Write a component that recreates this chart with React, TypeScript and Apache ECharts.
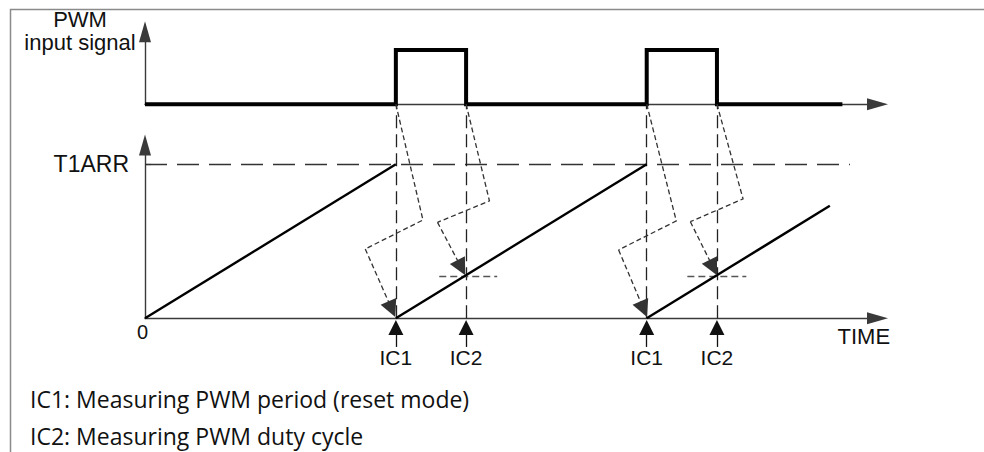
import React, { useEffect, useRef } from 'react';
import * as echarts from 'echarts';

// ---- data (time units along x, counter units along y) ----
const X_MAX = 29.2;
const PWM_TIMES = [0, 10, 10, 12.8, 12.8, 20, 20, 22.8, 22.8, 27.8];
const PWM_LEVELS = [0, 0, 1, 1, 0, 0, 1, 1, 0, 0];
const PWM_MAX = 1.337;
const COUNT_MAX = 112.5;
const T1ARR = 100;
const T1ARR_END = 28.1;
const RAMP_START = [0, 10, 20];
const RAMP_END = [10, 20, 27.3];
const RAMP_END_COUNT = [100, 100, 73];
const IC_TIMES = [10, 12.8, 20, 22.8];
const IC_LABELS = ['IC1', 'IC2', 'IC1', 'IC2'];
const EDGE_COUNT = 139; // level of the PWM baseline expressed in counter units
const IC2_COUNT = 27.5;
const IC2_MARK_FROM = [11.73, 21.62];
const IC2_MARK_TO = [14.04, 23.97];
const ZIG_IC1_A = [[10, 139], [11.08, 63.8], [8.78, 45], [9.84, 5.9]];
const ZIG_IC2_A = [[12.8, 139], [13.73, 76.2], [11.66, 62.3], [12.61, 32.9]];
const ZIG_IC1_B = [[20, 139], [21.18, 63.2], [18.88, 44.4], [19.88, 5.9]];
const ZIG_IC2_B = [[22.8, 139], [23.84, 77.5], [21.74, 62.7], [22.65, 32.9]];
const UP_ARROW_FROM = -18.6;
const UP_ARROW_TO = -6;
const LEGEND_LINES = ['IC1: Measuring PWM period (reset mode)', 'IC2: Measuring PWM duty cycle'];

const FONT = '"Liberation Sans", Arial, sans-serif';
const LEGEND_FONT = '"Open Sans", sans-serif';

export default function App() {
  const ref = useRef<HTMLDivElement>(null);
  useEffect(() => {
    document.body.style.margin = '0';
    const chart = echarts.init(ref.current!, null, { renderer: 'svg' });
    const axisLine = {
      show: true,
      symbol: ['none', 'triangle'],
      symbolSize: [12, 21],
      lineStyle: { color: '#3a3a3a', width: 1.4 },
    };
    const pwmData = PWM_TIMES.map((t, i) => [t, PWM_LEVELS[i]]);
    const ramps = RAMP_START.map((t, i) => ({ coords: [[t, 0], [RAMP_END[i], RAMP_END_COUNT[i]]] }));
    const verticals = IC_TIMES.map((t) => ({ coords: [[t, 0], [t, EDGE_COUNT]] }));
    const ic2Marks = IC2_MARK_FROM.map((t, i) => ({ coords: [[t, IC2_COUNT], [IC2_MARK_TO[i], IC2_COUNT]] }));
    const zigList = [ZIG_IC1_A, ZIG_IC2_A, ZIG_IC1_B, ZIG_IC2_B];
    const zigBodies = zigList.map((c) => ({ coords: c.slice(0, 3) }));
    const zigTips = zigList.map((c) => ({ coords: c.slice(2, 4) }));
    const ups = IC_TIMES.map((t) => ({ coords: [[t, UP_ARROW_FROM], [t, UP_ARROW_TO]] }));
    const zigStyle = { color: '#333', width: 1.3, type: [5, 3], opacity: 1 };

    chart.setOption({
      animation: false,
      grid: [
        { left: 145, top: 31.7, width: 732.5, height: 72.6 },
        { left: 145, top: 145, width: 732.5, height: 173.3 },
      ],
      xAxis: [
        {
          type: 'value', gridIndex: 0, min: 0, max: X_MAX,
          axisLine, axisTick: { show: false }, axisLabel: { show: false }, splitLine: { show: false },
        },
        {
          type: 'value', gridIndex: 1, min: 0, max: X_MAX,
          axisLine, axisTick: { show: false }, splitLine: { show: false },
          name: 'TIME', nameLocation: 'end', nameGap: -40,
          nameTextStyle: { fontFamily: FONT, fontSize: 22, color: '#111', align: 'left', verticalAlign: 'top', padding: [7, 0, 0, 0] },
          axisLabel: {
            show: true, customValues: IC_TIMES, margin: 29,
            fontFamily: FONT, fontSize: 21, color: '#111',
            formatter: (v: number) => {
              const i = IC_TIMES.findIndex((t) => Math.abs(t - v) < 1e-6);
              return i >= 0 ? IC_LABELS[i] : '';
            },
          },
        },
      ],
      yAxis: [
        {
          type: 'value', gridIndex: 0, min: 0, max: PWM_MAX,
          axisLine, axisTick: { show: false }, axisLabel: { show: false }, splitLine: { show: false },
        },
        {
          type: 'value', gridIndex: 1, min: 0, max: COUNT_MAX,
          axisLine, splitLine: { show: false },
          axisTick: { show: true, customValues: [T1ARR], inside: true, length: 6, lineStyle: { color: '#333', width: 1.2 } },
          axisLabel: {
            show: true, customValues: [T1ARR], margin: 16,
            fontFamily: FONT, fontSize: 23, color: '#111',
            formatter: () => 'T1ARR',
          },
        },
      ],
      graphic: [
        { type: 'rect', z: -1, shape: { x: 10.5, y: 9.5, width: 1000, height: 500 }, style: { fill: 'none', stroke: '#8a8a8a', lineWidth: 1.5 } },
        { type: 'text', x: 80, y: 8, style: { text: 'PWM\ninput signal', fontFamily: FONT, fontSize: 22, lineHeight: 23, fill: '#111', align: 'center' } },
        { type: 'text', x: 142.5, y: 332, style: { text: '0', fontFamily: FONT, fontSize: 20, fill: '#111', align: 'center', verticalAlign: 'middle' } },
        { type: 'text', x: 30, y: 399, style: { text: LEGEND_LINES[0], fontFamily: LEGEND_FONT, fontSize: 23, fill: '#111', align: 'left', verticalAlign: 'middle' } },
        { type: 'text', x: 30, y: 436, style: { text: LEGEND_LINES[1], fontFamily: LEGEND_FONT, fontSize: 23, fill: '#111', align: 'left', verticalAlign: 'middle' } },
      ],
      series: [
        {
          type: 'line', xAxisIndex: 0, yAxisIndex: 0, data: pwmData, symbol: 'none', clip: false, z: 5,
          lineStyle: { color: '#000', width: 4, join: 'miter', cap: 'butt' },
        },
        {
          type: 'lines', coordinateSystem: 'cartesian2d', xAxisIndex: 1, yAxisIndex: 1, clip: false,
          data: ramps, lineStyle: { color: '#000', width: 2.4, opacity: 1 }, symbol: 'none', z: 5,
        },
        {
          type: 'lines', coordinateSystem: 'cartesian2d', xAxisIndex: 1, yAxisIndex: 1, clip: false,
          data: [{ coords: [[0, T1ARR], [T1ARR_END, T1ARR]] }],
          lineStyle: { color: '#333', width: 1.3, type: [22, 10], opacity: 1 }, symbol: 'none',
        },
        {
          type: 'lines', coordinateSystem: 'cartesian2d', xAxisIndex: 1, yAxisIndex: 1, clip: false,
          data: verticals, lineStyle: { color: '#222', width: 1.3, type: [13, 6], opacity: 1 }, symbol: 'none',
        },
        {
          type: 'lines', coordinateSystem: 'cartesian2d', xAxisIndex: 1, yAxisIndex: 1, clip: false,
          data: ic2Marks, lineStyle: { color: '#555', width: 1.3, type: [7, 4], opacity: 1 }, symbol: 'none',
        },
        {
          type: 'lines', coordinateSystem: 'cartesian2d', xAxisIndex: 1, yAxisIndex: 1, clip: false, polyline: true,
          data: zigBodies, lineStyle: zigStyle, symbol: 'none', z: 6,
        },
        {
          type: 'lines', coordinateSystem: 'cartesian2d', xAxisIndex: 1, yAxisIndex: 1, clip: false,
          data: zigTips, lineStyle: zigStyle,
          symbol: ['none', 'triangle'], symbolSize: [11, 17], z: 6,
        },
        {
          type: 'lines', coordinateSystem: 'cartesian2d', xAxisIndex: 1, yAxisIndex: 1, clip: false,
          data: ups, lineStyle: { color: '#111', width: 1.3, opacity: 1 },
          symbol: ['none', 'triangle'], symbolSize: [11, 15],
        },
      ],
    });
    return () => chart.dispose();
  }, []);
  return <div ref={ref} style={{ width: 984, height: 452 }} />;
}
